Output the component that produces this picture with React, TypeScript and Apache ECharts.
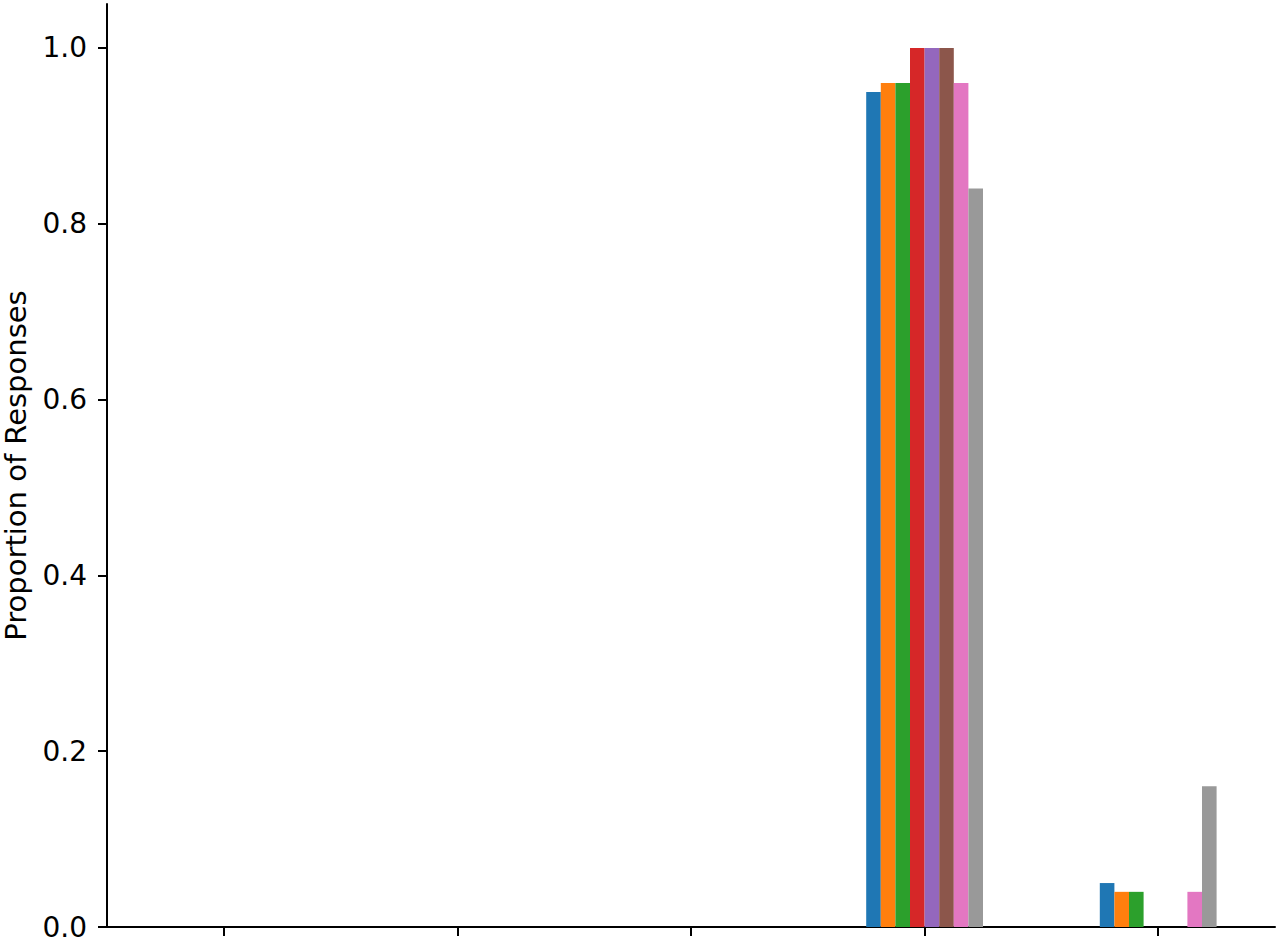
import React, { useEffect, useRef } from "react";
import * as echarts from "echarts";

const categories = ["1", "2", "3", "4", "5"];
const seriesNames = ["S1", "S2", "S3", "S4", "S5", "S6", "S7", "S8"];
const colors = ["#1f77b4", "#ff7f0e", "#2ca02c", "#d62728", "#9467bd", "#8c564b", "#e377c2", "#999999"];
// values per series across the 5 categories
const s1 = [0, 0, 0, 0.95, 0.05];
const s2 = [0, 0, 0, 0.96, 0.04];
const s3 = [0, 0, 0, 0.96, 0.04];
const s4 = [0, 0, 0, 1.0, 0];
const s5 = [0, 0, 0, 1.0, 0];
const s6 = [0, 0, 0, 1.0, 0];
const s7 = [0, 0, 0, 0.96, 0.04];
const s8 = [0, 0, 0, 0.84, 0.16];
const seriesValues = [s1, s2, s3, s4, s5, s6, s7, s8];
const yTicks = [0, 0.2, 0.4, 0.6, 0.8, 1.0];

export default function App() {
  const ref = useRef<HTMLDivElement>(null);
  useEffect(() => {
    if (!ref.current) return;
    const chart = echarts.init(ref.current, undefined, { renderer: "svg" });
    chart.setOption({
      animation: false,
      grid: { left: 107, right: 5, top: 4, bottom: 15, containLabel: false, outerBoundsMode: "none" },
      xAxis: {
        type: "category",
        data: categories,
        axisLine: { lineStyle: { color: "#000", width: 2 } },
        axisTick: { show: true, interval: 0, alignWithLabel: true, length: 9, lineStyle: { color: "#000", width: 2 } },
        axisLabel: { show: false, interval: 0 },
        splitLine: { show: false },
      },
      yAxis: {
        type: "value",
        min: 0,
        max: 1.05,
        name: "Proportion of Responses",
        nameLocation: "middle",
        nameGap: 77,
        nameTextStyle: { fontFamily: "DejaVu Sans", fontSize: 29, color: "#000" },
        axisLine: { show: true, lineStyle: { color: "#000", width: 2 } },
        axisTick: { show: true, length: 9, customValues: yTicks, lineStyle: { color: "#000", width: 2 } },
        axisLabel: {
          customValues: yTicks,
          margin: 20,
          fontFamily: "DejaVu Sans",
          fontSize: 28,
          color: "#000",
          formatter: (v: number) => v.toFixed(1),
        },
        splitLine: { show: false },
      },
      series: seriesNames.map((name, i) => ({
        name,
        type: "bar",
        data: seriesValues[i],
        barGap: "0%",
        barCategoryGap: "50%",
        itemStyle: { color: colors[i] },
      })),
    });
    return () => chart.dispose();
  }, []);
  return (
    <div
      ref={ref}
      style={{ position: "fixed", left: 0, top: 0, width: 1280, height: 942, background: "#fff" }}
    />
  );
}
